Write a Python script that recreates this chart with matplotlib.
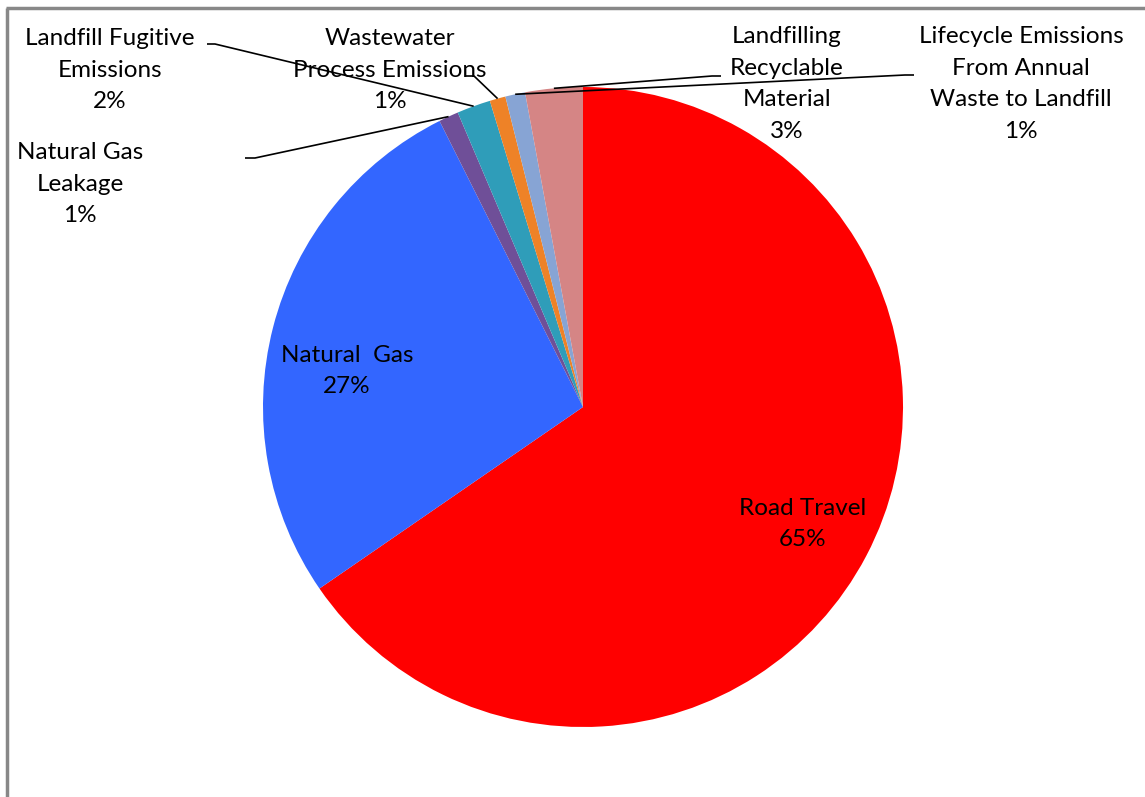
import numpy as np
import matplotlib.pyplot as plt

# Emission shares (%), clockwise from 12 o'clock
categories = ['Road Travel', 'Natural  Gas', 'Natural Gas\nLeakage',
              'Landfill Fugitive\nEmissions', 'Wastewater\nProcess Emissions',
              'Lifecycle Emissions\nFrom Annual\nWaste to Landfill',
              'Landfilling\nRecyclable\nMaterial']
values = [65.4, 27.2, 1.0, 1.7, 0.8, 1.0, 2.9]
pct_labels = ['65%', '27%', '1%', '2%', '1%', '1%', '3%']
colors = ['#FF0000', '#3366FF', '#6F4F98', '#2F9DB9', '#EE8227', '#87A4D4', '#D58585']

W, H = 1145, 797
fig = plt.figure(figsize=(W / 100, H / 100), dpi=100)
ax = fig.add_axes([0, 0, 1, 1])

cx, cy, R = 583, H - 407, 320
wedges, _ = ax.pie(values, colors=colors, startangle=90, counterclock=False,
                   center=(cx, cy), radius=R, frame=True,
                   wedgeprops=dict(linewidth=0))
ax.set_xlim(0, W)
ax.set_ylim(0, H)
ax.set_aspect('equal')
ax.axis('off')

font = dict(family=['Lato', 'DejaVu Sans'], fontsize=17.5, color='black',
            ha='center', va='center', linespacing=1.63)

# label text centres (pixel coords, y from top)
label_pos = {
    0: (803, 524),
    1: (347, 371),
    2: (80, 184),
    3: (110, 70),
    4: (390, 70),
    5: (1021, 84),
    6: (787, 84),
}
# leader: (elbow, end) in pixel coords
leaders = {
    2: ((255, 158), (245, 158)),
    3: ((215, 44), (207, 44)),
    4: ((474, 76), (465, 76)),
    5: ((905, 75), (914, 75)),
    6: ((712, 76), (721, 76)),
}

for i, w in enumerate(wedges):
    x, y = label_pos[i]
    ax.text(x, H - y, categories[i] + '\n' + pct_labels[i], **font)
    if i in leaders:
        mid = np.deg2rad((w.theta1 + w.theta2) / 2)
        ax_x = cx + R * np.cos(mid)
        ax_y = cy + R * np.sin(mid)
        (ex, ey), (tx, ty) = leaders[i]
        ax.plot([ax_x, ex, tx], [ax_y, H - ey, H - ty], color='black', lw=1.2,
                solid_capstyle='butt')

# chart frame (left and top edges visible)
ax.plot([7, 7], [0, H - 8], color='#888888', lw=2.5, solid_capstyle='butt')
ax.plot([6, W], [H - 8, H - 8], color='#888888', lw=2.5, solid_capstyle='butt')

fig.savefig('out.png', dpi=100)
